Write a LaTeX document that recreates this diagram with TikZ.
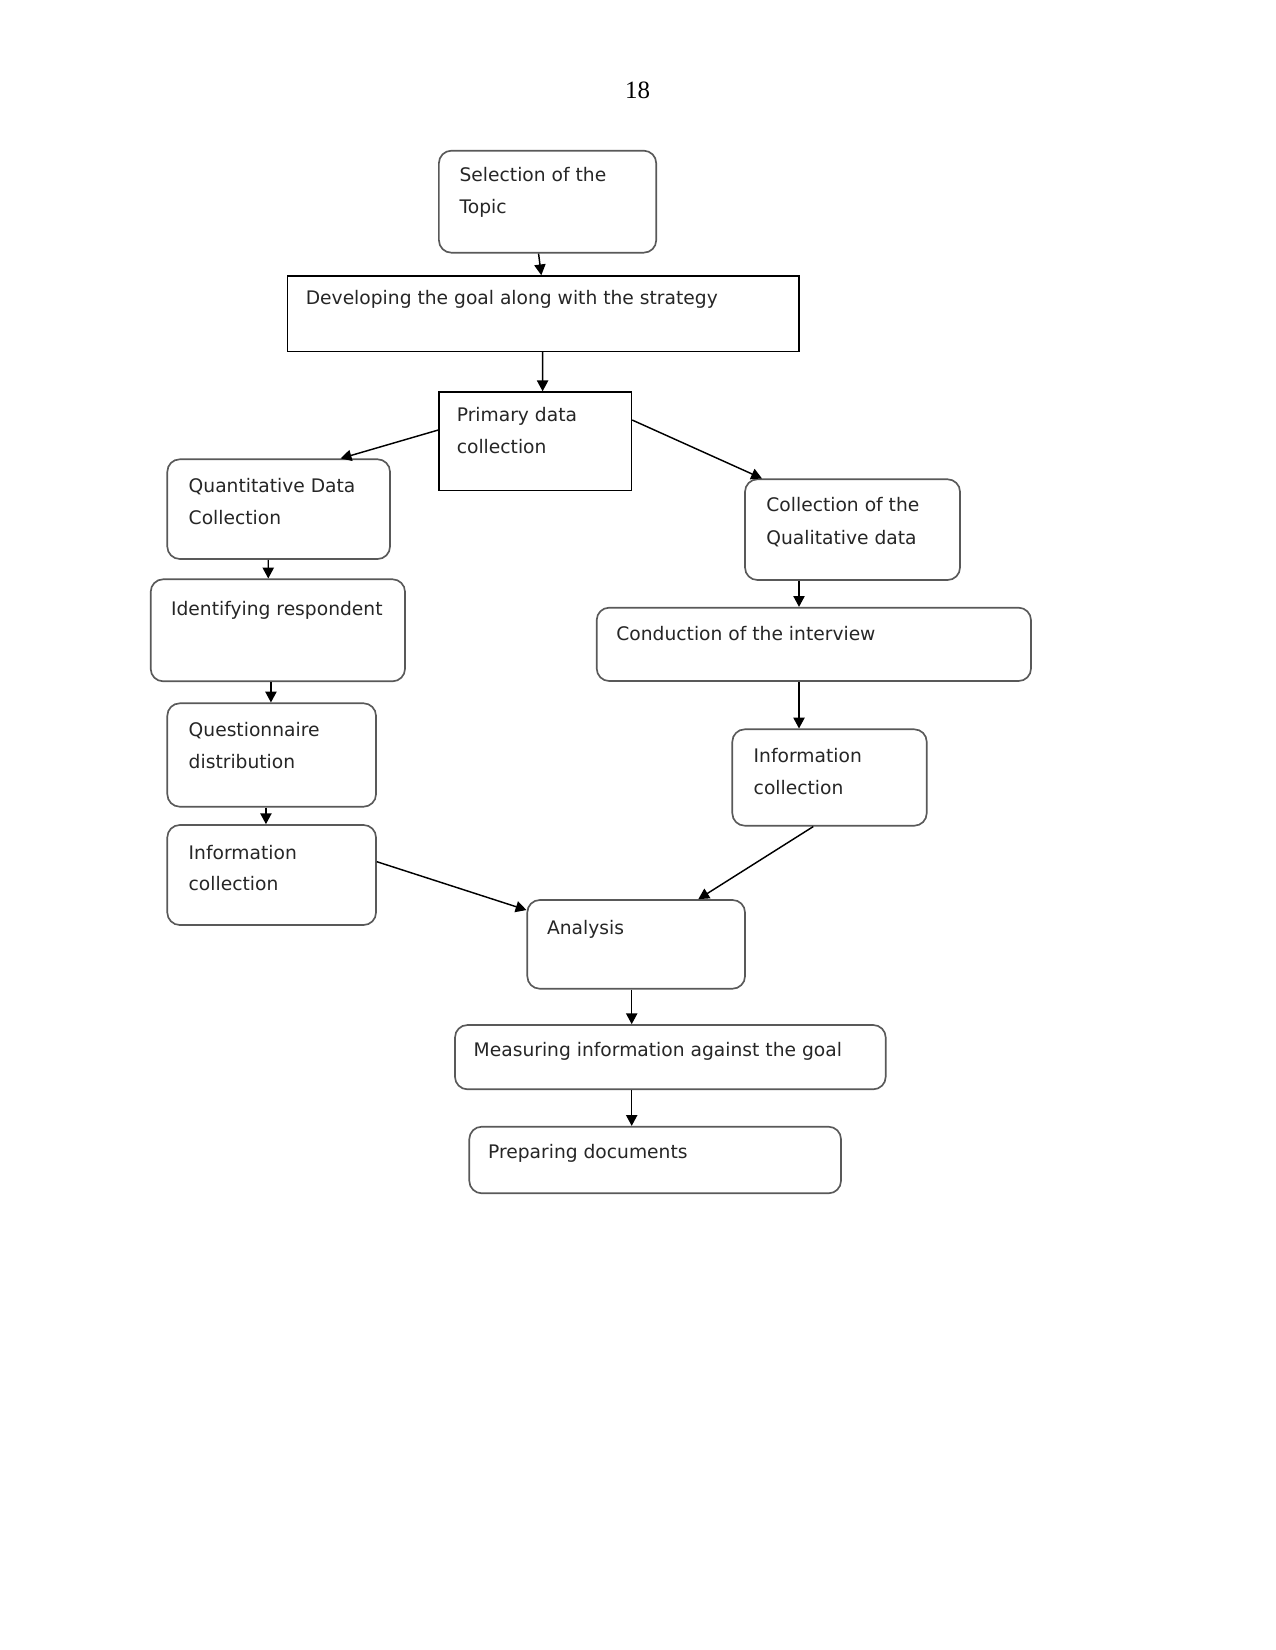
\documentclass[tikz,border=0pt]{standalone}
\usepackage{fontspec}
\setmainfont{Liberation Serif}
\newfontfamily\boxfont{DejaVu Sans}
\usetikzlibrary{arrows.meta,fit,calc}
\tikzset{
  rbox/.style={draw=black!65, line width=0.8pt, rounded corners=6pt, inner sep=0pt},
  sbox/.style={draw=black, line width=0.7pt, inner sep=0pt},
  txt/.style={anchor=base west, inner sep=0pt, font=\boxfont\fontsize{9}{10}\selectfont, text=black!85},
  conn/.style={draw=black, line width=0.7pt, -{Triangle[length=5.2pt,width=5.4pt]}}
}
\begin{document}
\begin{tikzpicture}[x=0.4818pt, y=-0.4818pt]
\useasboundingbox[fill=white] (0,0) rectangle (1275,1650);
\node[anchor=base, inner sep=0pt, font=\fontsize{12}{14}\selectfont] (pg) at (637.5,99) {18};

% boxes
\node[rbox, fit={(438.9,150.7) (656.2,252.7)}] (sel) {};
\node[sbox, fit={(287.4,276) (799.2,351.3)}] (dev) {};
\node[sbox, fit={(438.9,392) (631.5,490.7)}] (prim) {};
\node[rbox, fit={(167.3,459.3) (390,559)}] (quant) {};
\node[rbox, fit={(150.7,579.3) (405,681.3)}] (ident) {};
\node[rbox, fit={(167.3,703.3) (376,806.7)}] (quest) {};
\node[rbox, fit={(167.3,825) (376,925)}] (infoL) {};
\node[rbox, fit={(745,479.3) (960,580)}] (qual) {};
\node[rbox, fit={(596.7,607.7) (1031,681)}] (cond) {};
\node[rbox, fit={(732.3,729.3) (926.7,825.7)}] (infoR) {};
\node[rbox, fit={(527.3,900) (745,988.7)}] (anal) {};
\node[rbox, fit={(455,1025) (885.7,1089.3)}] (meas) {};
\node[rbox, fit={(469.3,1126.7) (841,1193.3)}] (prep) {};

% texts
\node[txt] (selA) at (459.2,181.7) {Selection of the};
\node[txt] (selB) at (459.2,214) {Topic};
\node[txt] (devA) at (305.4,305) {Developing the goal along with the strategy};
\node[txt] (primA) at (456.4,421.7) {Primary data};
\node[txt] (primB) at (456.4,453.3) {collection};
\node[txt] (quantA) at (188.3,492.7) {Quantitative Data};
\node[txt] (quantB) at (188.3,524) {Collection};
\node[txt] (identA) at (170.7,615) {Identifying respondent};
\node[txt] (questA) at (188.3,736.7) {Questionnaire};
\node[txt] (questB) at (188.3,768.3) {distribution};
\node[txt] (infoLA) at (188.3,859) {Information};
\node[txt] (infoLB) at (188.3,890) {collection};
\node[txt] (qualA) at (766,511.7) {Collection of the};
\node[txt] (qualB) at (766,544) {Qualitative data};
\node[txt] (condA) at (616,640) {Conduction of the interview};
\node[txt] (infoRA) at (753.3,762.3) {Information};
\node[txt] (infoRB) at (753.3,794.3) {collection};
\node[txt] (analA) at (546.7,934) {Analysis};
\node[txt] (measA) at (473.3,1056) {Measuring information against the goal};
\node[txt] (prepA) at (487.7,1158.3) {Preparing documents};

% connectors
\draw[conn] ($(sel.south)+(-9,0)$) -- ($(dev.north)+(-2,0)$);
\draw[conn] ($(dev.south)+(-0.7,0)$) -- ($(prim.north)+(7.4,0)$);
\draw[conn] ($(prim.west)+(0,-11.3)$) -- ($(quant.north)+(62,0)$);
\draw[conn] ($(prim.east)+(0,-21.3)$) -- ($(qual.north)+(-90.5,0)$);
\draw[conn] ($(quant.south)+(-10.4,0)$) -- ($(ident.north)+(-9.6,0)$);
\draw[conn] ($(ident.south)+(-6.9,0)$) -- ($(quest.north)+(-0.7,0)$);
\draw[conn] ($(quest.south)+(-5.7,0)$) -- ($(infoL.north)+(-5.7,0)$);
\draw[conn] ($(infoL.east)+(0,-13.3)$) -- ($(anal.west)+(0,-34.3)$);
\draw[conn] ($(qual.south)+(-53.5,0)$) -- ($(cond.north)+(-14.85,0)$);
\draw[conn] ($(cond.south)+(-14.85,0)$) -- ($(infoR.north)+(-30.5,0)$);
\draw[conn] ($(infoR.south)+(-16.2,0)$) -- ($(anal.north)+(62.15,0)$);
\draw[conn] ($(anal.south)+(-4.45,0)$) -- ($(meas.north)+(-38.65,0)$);
\draw[conn] ($(meas.south)+(-38.65,0)$) -- ($(prep.north)+(-23.45,0)$);
\end{tikzpicture}
\end{document}
